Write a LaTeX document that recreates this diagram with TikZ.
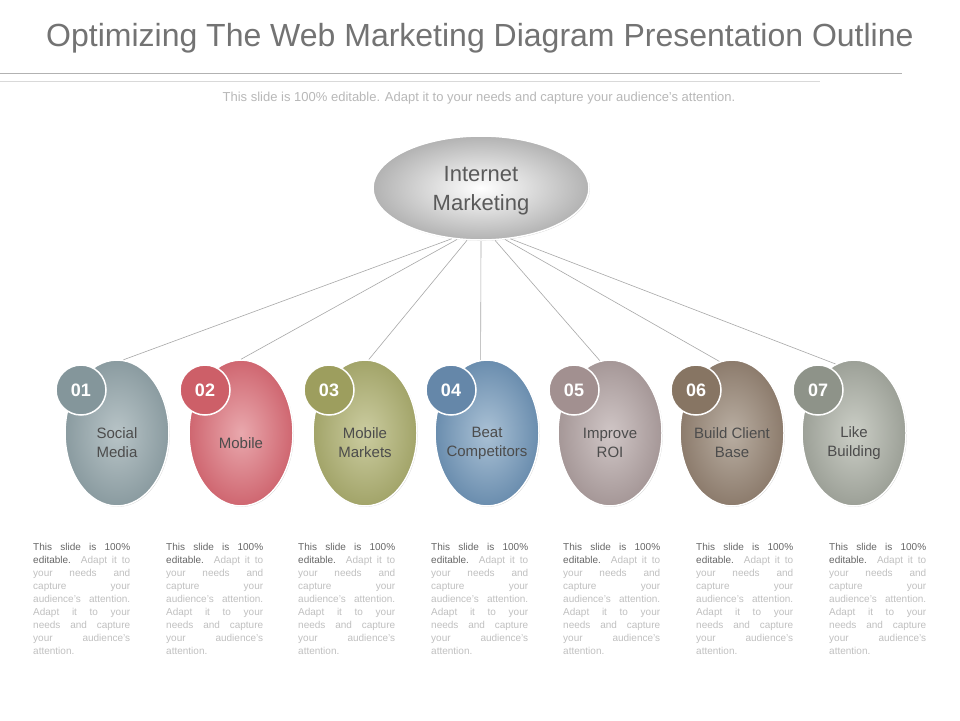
\documentclass[tikz,border=0pt]{standalone}
\usepackage{fontspec}
\setmainfont{Liberation Sans}
\usetikzlibrary{shapes.geometric,shadows}
\definecolor{titlecol}{HTML}{737373}
\definecolor{subcol}{HTML}{B8B8B8}
\definecolor{labcol}{HTML}{4C4C4C}
\definecolor{imtxt}{HTML}{5A5A5A}
\definecolor{darktxt}{HTML}{666666}
\definecolor{lighttxt}{HTML}{C0C0C0}
\definecolor{conncol}{HTML}{A8A8A8}
\definecolor{ai}{HTML}{B8C4C7}\definecolor{ao}{HTML}{8A9BA0}\definecolor{ac}{HTML}{84969B}
\definecolor{bi}{HTML}{E9A8AD}\definecolor{bo}{HTML}{CF6670}\definecolor{bc}{HTML}{CD5F68}
\definecolor{ci}{HTML}{CBCCA0}\definecolor{co}{HTML}{A2A469}\definecolor{cc}{HTML}{9D9E5E}
\definecolor{di}{HTML}{AAC1D5}\definecolor{do}{HTML}{6A8DAE}\definecolor{dc}{HTML}{6587A9}
\definecolor{ei}{HTML}{D0C6C6}\definecolor{eo}{HTML}{A59797}\definecolor{ec}{HTML}{A29090}
\definecolor{fi}{HTML}{B9AEA2}\definecolor{fo}{HTML}{8C7B6C}\definecolor{fc}{HTML}{877563}
\definecolor{gi}{HTML}{CBCEC6}\definecolor{go}{HTML}{9CA097}\definecolor{gc}{HTML}{8E9389}
\newcommand\jline[1]{\makebox[97pt][s]{#1}}
\newcommand\desctext{%
\jline{\textcolor{darktxt}{This slide is 100\%}}\\
\jline{\textcolor{darktxt}{editable.} Adapt it to}\\
\jline{your needs and}\\
\jline{capture your}\\
\jline{audience's attention.}\\
\jline{Adapt it to your}\\
\jline{needs and capture}\\
\jline{your audience's}\\
attention.}
\begin{document}
\begin{tikzpicture}[x=1pt,y=-1pt,
  oval/.style={ellipse, minimum width=104pt, minimum height=146pt, inner sep=0pt,
    draw=white, line width=1.5pt,
    drop shadow={shadow xshift=0.8pt,shadow yshift=-0.8pt,opacity=0.35}},
  numc/.style={circle, minimum size=50pt, inner sep=0pt, draw=white, line width=1.5pt,
    text=white, font=\bfseries\fontsize{18}{20}\selectfont},
  lab/.style={align=center, text=labcol, font=\fontsize{15}{19}\selectfont},
  conn/.style={draw=conncol, line width=0.6pt},
  desc/.style={anchor=north west, inner sep=0pt, align=left, text=lighttxt,
    font=\fontsize{10}{13}\selectfont}]
\fill[white] (0,0) rectangle (960,720);
\path[use as bounding box] (0,0) rectangle (960,720);
% title
\node[anchor=west, inner sep=0pt, text=titlecol, font=\fontsize{32}{36}\selectfont] (title) at (46,38) {Optimizing The Web Marketing Diagram Presentation Outline};
\coordinate (r1a) at (0,73); \coordinate (r1b) at (902,73);
\coordinate (r2a) at (0,81); \coordinate (r2b) at (820,81);
\draw[draw=black!30, line width=1pt] (r1a) -- (r1b);
\draw[draw=black!15, line width=1pt] (r2a) -- (r2b);
\node[inner sep=0pt, text=subcol, font=\fontsize{13}{15}\selectfont] (sub) at (479,98) {This slide is 100\% editable. Adapt it to your needs and capture your audience's attention.};
% central ellipse
\node[ellipse, minimum width=216pt, minimum height=104pt, inner sep=0pt, draw=white, line width=1.5pt,
  shading=radial, inner color=white, outer color=black!30,
  drop shadow={shadow xshift=0.8pt,shadow yshift=-0.8pt,opacity=0.35}] (im) at (481,188) {};
\node[align=center, text=imtxt, font=\fontsize{22}{29}\selectfont] (imt) at (481,191) {Internet\\Marketing};
% ovals
\node[oval, inner color=ai, outer color=ao] (o1) at (117,433) {};
\node[oval, inner color=bi, outer color=bo] (o2) at (241,433) {};
\node[oval, inner color=ci, outer color=co] (o3) at (365,433) {};
\node[oval, inner color=di, outer color=do] (o4) at (487,433) {};
\node[oval, inner color=ei, outer color=eo] (o5) at (610,433) {};
\node[oval, inner color=fi, outer color=fo] (o6) at (732,433) {};
\node[oval, inner color=gi, outer color=go] (o7) at (854,433) {};
% connectors
\draw[conn] (im.240) -- (o1.85);
\draw[conn] (im.245) -- (o2.90);
\draw[conn] (im.255) -- (o3.87);
\draw[conn] (im.270) -- (o4.95);
\draw[conn] (im.285) -- (o5.98);
\draw[conn] (im.295) -- (o6.100);
\draw[conn] (im.300) -- (o7.105);
% number circles
\node[numc, fill=ac] (n1) at (81,390) {01};
\node[numc, fill=bc] (n2) at (205,390) {02};
\node[numc, fill=cc] (n3) at (329,390) {03};
\node[numc, fill=dc] (n4) at (451,390) {04};
\node[numc, fill=ec] (n5) at (574,390) {05};
\node[numc, fill=fc] (n6) at (696,390) {06};
\node[numc, fill=gc] (n7) at (818,390) {07};
% labels
\node[lab] (l1) at (117,443) {Social\\Media};
\node[lab] (l2) at (241,443) {Mobile};
\node[lab] (l3) at (365,443) {Mobile\\Markets};
\node[lab] (l4) at (487,443) {Beat\\Competitors};
\node[lab] (l5) at (610,443) {Improve\\ROI};
\node[lab] (l6) at (732,443) {Build Client\\Base};
\node[lab] (l7) at (854,443) {Like\\Building};
% descriptions
\node[desc] (d1) at (33,543) {\desctext};
\node[desc] (d2) at (166,543) {\desctext};
\node[desc] (d3) at (298,543) {\desctext};
\node[desc] (d4) at (431,543) {\desctext};
\node[desc] (d5) at (563,543) {\desctext};
\node[desc] (d6) at (696,543) {\desctext};
\node[desc] (d7) at (829,543) {\desctext};
\end{tikzpicture}
\end{document}
